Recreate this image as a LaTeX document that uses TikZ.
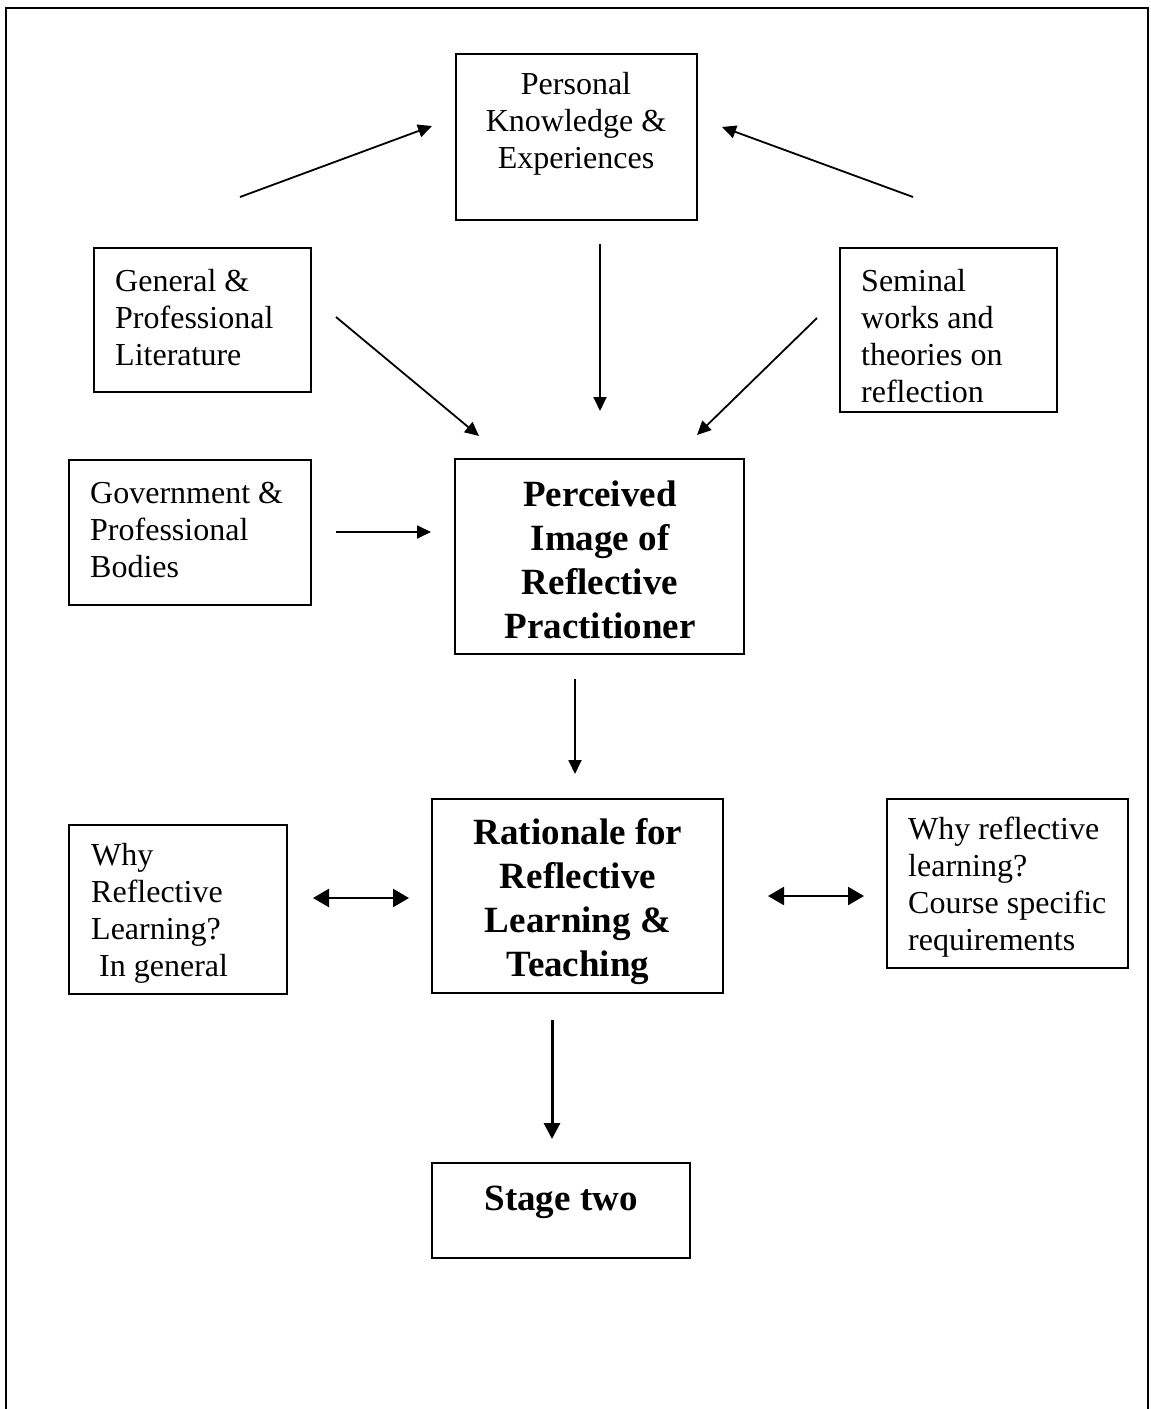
\documentclass[tikz,border=0pt]{standalone}
\usepackage{fontspec}
\setmainfont{Liberation Serif}
\usetikzlibrary{arrows.meta}
\begin{document}
\begin{tikzpicture}[x=1pt,y=-1pt,
  box/.style={draw,line width=1.6pt,inner sep=0pt},
  thickbox/.style={draw,line width=2.2pt,inner sep=0pt},
  txt/.style={inner sep=0pt,font=\fontsize{32}{37}\selectfont},
  ltxt/.style={txt,align=left,anchor=west},
  ctxt/.style={txt,align=center},
  btxt/.style={inner sep=0pt,align=center,font=\fontsize{37}{44}\selectfont\bfseries},
  arr/.style={line width=1.8pt,-{Triangle[length=14pt,width=13pt]}},
  darr/.style={line width=2.4pt,{Triangle[length=16pt,width=18pt]}-{Triangle[length=16pt,width=18pt]}},
  barr/.style={line width=3pt,-{Triangle[length=16pt,width=16pt]}}]
\useasboundingbox (0,0) rectangle (1151,1409);
\draw[line width=1.2pt] (6,1409) -- (6,8) -- (1148,8) -- (1148,1409);

% boxes
\node[box,minimum width=241pt,minimum height=166pt] (pke) at (576.5,137) {};
\node[box,minimum width=217pt,minimum height=144pt] (gpl) at (202.5,320) {};
\node[box,minimum width=217pt,minimum height=164pt] (sw) at (948.5,330) {};
\node[box,minimum width=242pt,minimum height=145pt] (gpb) at (190,532.5) {};
\node[box,minimum width=289pt,minimum height=195pt] (pirp) at (599.5,556.5) {};
\node[thickbox,minimum width=291pt,minimum height=194pt] (rrlt) at (577.5,896) {};
\node[box,minimum width=218pt,minimum height=169pt] (wrl) at (178,909.5) {};
\node[box,minimum width=241pt,minimum height=169pt] (wrlc) at (1007.5,883.5) {};
\node[thickbox,minimum width=258pt,minimum height=95pt] (st) at (561,1210.5) {};

% texts
\node[ctxt] (pket) at (576,124) {Personal\\Knowledge \&\\Experiences};
\node[ltxt] (gplt) at (115,318) {General \&\\Professional\\Literature};
\node[ltxt] (swt) at (861,336) {Seminal\\works and\\theories on\\reflection};
\node[ltxt] (gpbt) at (90,530) {Government \&\\Professional\\Bodies};
\node[btxt] (pirpt) at (600,560) {Perceived\\Image of\\Reflective\\Practitioner};
\node[btxt] (rrltt) at (578,902) {Rationale for\\Reflective\\Learning \&\\Teaching};
\node[ltxt] (wrlt) at (91,913) {Why\\Reflective\\Learning?\\\ In general};
\node[ltxt] (wrlct) at (908,887) {Why reflective\\learning?\\Course specific\\requirements};
\node[btxt] (stt) at (561,1202) {Stage two};

% arrow end points
\coordinate (a1s) at (240,197); \coordinate (a1e) at (432,126);
\coordinate (a2s) at (913,197); \coordinate (a2e) at (722,127);
\coordinate (a3s) at (600,244); \coordinate (a3e) at (600,411);
\coordinate (a4s) at (336,317); \coordinate (a4e) at (479,436);
\coordinate (a5s) at (817,318); \coordinate (a5e) at (697,435);
\coordinate (a6s) at (336,532); \coordinate (a6e) at (431,532);
\coordinate (a7s) at (575,679); \coordinate (a7e) at (575,774);
\coordinate (a8s) at (313,898); \coordinate (a8e) at (409,898);
\coordinate (a9s) at (768,896); \coordinate (a9e) at (864,896);
\coordinate (a10s) at (552,1020); \coordinate (a10e) at (552,1139);

\draw[arr] (a1s) -- (a1e);
\draw[arr] (a2s) -- (a2e);
\draw[arr] (a3s) -- (a3e);
\draw[arr] (a4s) -- (a4e);
\draw[arr] (a5s) -- (a5e);
\draw[arr] (a6s) -- (a6e);
\draw[arr] (a7s) -- (a7e);
\draw[darr] (a8s) -- (a8e);
\draw[darr] (a9s) -- (a9e);
\draw[barr] (a10s) -- (a10e);
\end{tikzpicture}
\end{document}
